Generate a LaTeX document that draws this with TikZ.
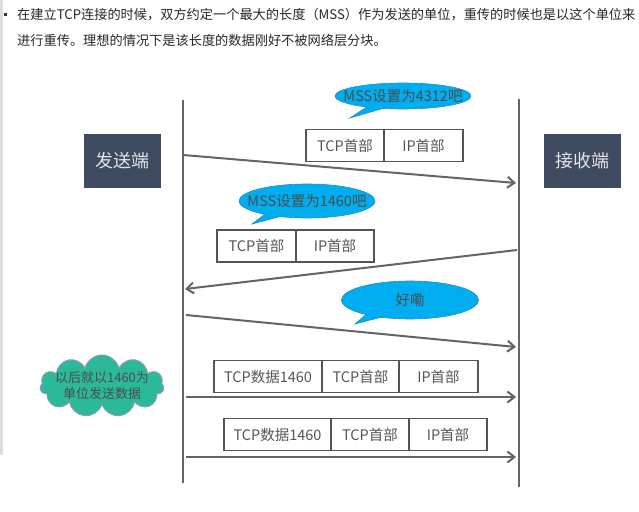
\documentclass[tikz,border=0pt]{standalone}
\usepackage{fontspec}
\setmainfont{Noto Sans CJK SC}
\usepackage{xcolor}
\usetikzlibrary{positioning,arrows.meta,shapes.callouts,shapes.symbols}
\definecolor{slate}{RGB}{61,74,95}
\definecolor{bubbleblue}{RGB}{0,174,239}
\definecolor{bubbleedge}{RGB}{35,140,200}
\definecolor{cloudgreen}{RGB}{43,185,154}
\definecolor{cloudedge}{RGB}{140,155,185}
\definecolor{linegray}{RGB}{100,100,100}
\definecolor{txtgray}{RGB}{85,85,85}

\begin{document}
\begin{tikzpicture}[x=1pt,y=-1pt,
  host/.style={fill=slate,text=white!90!black,minimum width=77pt,minimum height=54pt,font=\fontsize{18}{20}\selectfont},
  pkt/.style={draw=txtgray,line width=1.8pt,outer sep=0pt,inner sep=0pt,minimum height=32pt,text=txtgray,font=\fontsize{14.5}{16}\selectfont},
  talk/.style={ellipse callout,fill=bubbleblue,draw=bubbleedge,line width=0.6pt,inner sep=0pt,minimum width=136pt,text=black!70,font=\fontsize{14.5}{16}\selectfont},
  msg/.style={linegray,line width=2pt,-{Straight Barb[length=7pt,width=11pt,line width=2pt]}},
  life/.style={linegray,line width=2.4pt}]
\useasboundingbox (0,0) rectangle (639,511);
\fill[black!13] (0,0) rectangle (3,455);
\fill[black!80] (4,13) rectangle (6.5,16.5);
\node[anchor=west,inner sep=0pt,text=black!85,font=\fontsize{13.2}{15}\selectfont] (line1) at (17,15) {在建立TCP连接的时候，双方约定一个最大的长度（MSS）作为发送的单位，重传的时候也是以这个单位来};
\node[anchor=west,inner sep=0pt,text=black!85,font=\fontsize{13.2}{15}\selectfont] (line2) at (17,40) {进行重传。理想的情况下是该长度的数据刚好不被网络层分块。};
% ends
\node[host] (snd) at (122.5,161) {发送端};
\node[host] (rcv) at (582.5,161) {接收端};
\coordinate (sTop) at (183,100);\coordinate (sBot) at (183,483);
\coordinate (rTop) at (519,99);\coordinate (rBot) at (519,487);
\draw[life] (sTop)--(sBot);\draw[life] (rTop)--(rBot);
% messages
\coordinate (s1) at (183,155);\coordinate (r1) at (516,183);
\coordinate (r2) at (517,250);\coordinate (s2) at (185,289);
\coordinate (s3) at (186,315);\coordinate (r3) at (516,347);
\coordinate (s4) at (186,397);\coordinate (r4) at (516,397);
\coordinate (s5) at (186,457);\coordinate (r5) at (516,457);
\draw[msg] (s1)--(r1);\draw[msg] (r2)--(s2);\draw[msg] (s3)--(r3);
\draw[msg] (s4)--(r4);\draw[msg] (s5)--(r5);
% packets
\node[pkt,minimum width=78pt] (tcp1) at (345,145.5) {TCP首部};
\node[pkt,minimum width=79pt,right=0pt of tcp1] (ip1) {IP首部};
\node[pkt,minimum width=79pt] (tcp2) at (256.5,246) {TCP首部};
\node[pkt,minimum width=78pt,right=0pt of tcp2] (ip2) {IP首部};
\node[pkt,minimum width=108pt] (dat3) at (268,376.5) {TCP数据1460};
\node[pkt,minimum width=77pt,right=0pt of dat3] (tcp3) {TCP首部};
\node[pkt,minimum width=79pt,right=0pt of tcp3] (ip3) {IP首部};
\node[pkt,minimum width=107pt] (dat4) at (277.5,434.5) {TCP数据1460};
\node[pkt,minimum width=78pt,right=0pt of dat4] (tcp4) {TCP首部};
\node[pkt,minimum width=78pt,right=0pt of tcp4] (ip4) {IP首部};
% bubbles
\node[talk,minimum height=26pt,callout absolute pointer={(350,118)}] (ask1) at (403,96) {\makebox[0pt]{MSS设置为4312吧}};
\node[talk,minimum height=34pt,callout absolute pointer={(252,224)}] (ask2) at (307,201) {\makebox[0pt]{MSS设置为1460吧}};
\node[talk,minimum height=38pt,minimum width=137pt,callout absolute pointer={(355,324)}] (ok3) at (410,300) {\makebox[0pt]{好嘞}};
\node[cloud,cloud puffs=11,aspect=1.8,fill=cloudgreen,draw=cloudedge,line width=1pt,minimum width=124pt,minimum height=62pt,inner sep=0pt,align=center,text=black!70,font=\fontsize{13}{16}\selectfont] (plan) at (102,386) {\makebox[0pt]{以后就以1460为}\\\makebox[0pt]{单位发送数据}};
\end{tikzpicture}
\end{document}
